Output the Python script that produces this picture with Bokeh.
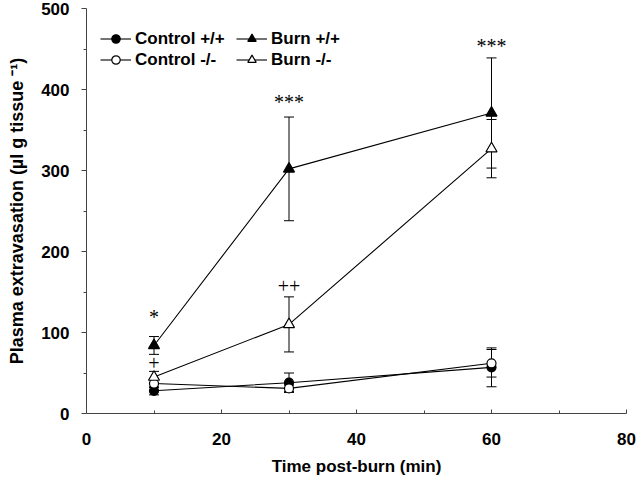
from bokeh.plotting import figure
from bokeh.models import (ColumnDataSource, Whisker, TeeHead, Range1d, FixedTicker,
                          Legend, LegendItem)
from bokeh.core.properties import value
from bokeh.embed import file_html
from bokeh.resources import INLINE

# ---- data ----
time_min = [10, 30, 60]
control_wt = [28, 38, 57]
control_wt_err = [5, 12, 24]
control_ko = [37, 31, 62]
control_ko_err = [5, 4, 17]
burn_wt = [84, 302, 371]
burn_wt_err = [11, 64, 68]
burn_ko = [45, 110, 327]
burn_ko_err = [7, 34, 36]

ann_x = [10, 10, 30, 30, 60]
ann_y = [119, 62, 157, 385, 454]
ann_text = ["*", "+", "++", "***", "***"]

x_ticks = [0, 20, 40, 60, 80]
x_minor = [10, 30, 50, 70]
y_ticks = [0, 100, 200, 300, 400, 500]
y_minor = [50, 150, 250, 350, 450]

FONT = "Liberation Sans"

p = figure(width=636, height=478, output_backend="svg", toolbar_location=None,
           x_range=Range1d(0, 80), y_range=Range1d(0, 500),
           min_border_left=86, min_border_right=10, min_border_top=8,
           min_border_bottom=61)
p.outline_line_color = None
p.xgrid.visible = False
p.ygrid.visible = False
p.background_fill_color = "white"
p.border_fill_color = "white"

p.xaxis.ticker = FixedTicker(ticks=x_ticks, minor_ticks=x_minor)
p.yaxis.ticker = FixedTicker(ticks=y_ticks, minor_ticks=y_minor)
for ax in (p.xaxis[0], p.yaxis[0]):
    ax.axis_line_color = "#444444"
    ax.major_tick_line_color = "#444444"
    ax.minor_tick_line_color = "#444444"
    ax.major_label_text_font = FONT
    ax.major_label_text_font_style = "bold"
    ax.major_label_text_font_size = "17px"
    ax.major_label_text_color = "black"
    ax.axis_label_text_font = FONT
    ax.axis_label_text_font_style = "bold"
    ax.axis_label_text_color = "black"

p.xaxis.major_tick_in = 4
p.xaxis.major_tick_out = 0
p.xaxis.minor_tick_in = 3
p.xaxis.minor_tick_out = 0
p.xaxis.major_label_standoff = 19
p.xaxis.axis_label = "Time post-burn (min)"
p.xaxis.axis_label_text_font_size = "17px"
p.xaxis.axis_label_standoff = 9

p.yaxis.major_tick_in = 0
p.yaxis.major_tick_out = 5
p.yaxis.minor_tick_in = 0
p.yaxis.minor_tick_out = 3
p.yaxis.major_label_standoff = 12
p.yaxis.axis_label = "Plasma extravasation (\u00b5l g tissue \u207b\u00b9)"
p.yaxis.axis_label_text_font_size = "18px"
p.yaxis.axis_label_standoff = 11

series = [
    ("Control +/+", control_wt, control_wt_err, "circle", "black", 9),
    ("Control -/-", control_ko, control_ko_err, "circle", "white", 9),
    ("Burn +/+", burn_wt, burn_wt_err, "triangle", "black", 11),
    ("Burn -/-", burn_ko, burn_ko_err, "triangle", "white", 11),
]

items = {}
for name, vals, errs, marker, fill, size in series:
    src = ColumnDataSource(dict(
        x=time_min, y=vals,
        upper=[v + e for v, e in zip(vals, errs)],
        lower=[v - e for v, e in zip(vals, errs)],
    ))
    ln = p.line("x", "y", source=src, line_color="black", line_width=1.1)
    wh = Whisker(base="x", upper="upper", lower="lower", source=src,
                 line_color="black", line_width=1,
                 upper_head=TeeHead(size=10, line_color="black", line_width=1),
                 lower_head=TeeHead(size=10, line_color="black", line_width=1))
    p.add_layout(wh)
    sc = p.scatter("x", "y", source=src, marker=marker, size=size,
                   fill_color=fill, line_color="black", line_width=1.2)
    items[name] = [ln, sc]

ann_src = ColumnDataSource(dict(x=ann_x, y=ann_y, t=ann_text))
p.text("x", "y", text="t", source=ann_src, text_align="center",
       text_baseline="middle", text_font=value("Liberation Serif"),
       text_font_size="20px", text_color="black")

def make_legend(names, loc):
    lg = Legend(items=[LegendItem(label=n, renderers=items[n]) for n in names],
                location=loc, orientation="vertical",
                border_line_color=None, background_fill_alpha=0,
                padding=0, margin=0, spacing=0,
                glyph_width=31, glyph_height=21, label_height=21,
                label_standoff=4,
                label_text_font=FONT, label_text_font_style="bold",
                label_text_font_size="17px", label_text_color="black")
    p.add_layout(lg)

make_legend(["Control +/+", "Control -/-"], (14, 343))
make_legend(["Burn +/+", "Burn -/-"], (150, 343))

open("out.html", "w").write(file_html(p, INLINE))
